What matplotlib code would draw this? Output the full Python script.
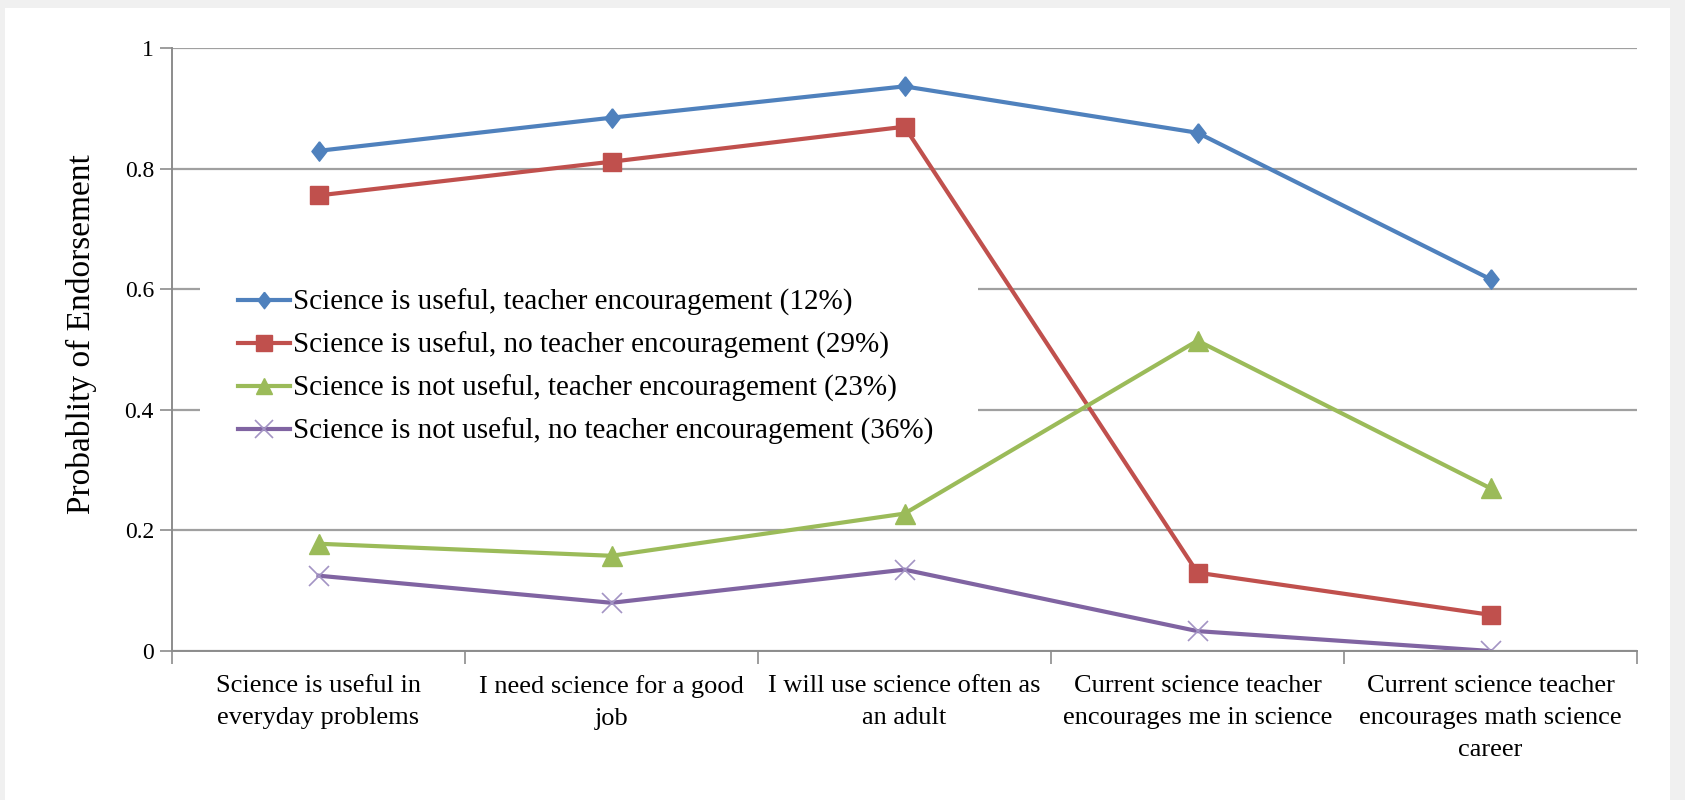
import matplotlib.pyplot as plt
from matplotlib.patches import Rectangle

# Kategorien und Werte
categories = [
    "Science is useful in\neveryday problems",
    "I need science for a good\njob",
    "I will use science often as\nan adult",
    "Current science teacher\nencourages me in science",
    "Current science teacher\nencourages math science\ncareer",
]
labels = [
    "Science is useful, teacher encouragement (12%)",
    "Science is useful, no teacher encouragement (29%)",
    "Science is not useful, teacher encouragement (23%)",
    "Science is not useful, no teacher encouragement (36%)",
]
useful_enc = [0.83, 0.885, 0.937, 0.86, 0.617]
useful_noenc = [0.756, 0.812, 0.87, 0.13, 0.06]
notuseful_enc = [0.178, 0.158, 0.228, 0.515, 0.27]
notuseful_noenc = [0.125, 0.08, 0.135, 0.033, 0.0]
yticks = [0, 0.2, 0.4, 0.6, 0.8, 1]
ytick_labels = ["0", "0.2", "0.4", "0.6", "0.8", "1"]

plt.rcParams["font.family"] = ["Liberation Serif", "DejaVu Serif"]

fig = plt.figure(figsize=(16.85, 8), dpi=100)
fig.patch.set_facecolor("#f0f0f0")
fig.patches.append(Rectangle((5 / 1685, 0), 1665 / 1685, 792 / 800,
                             transform=fig.transFigure, facecolor="white",
                             edgecolor="none", zorder=-10))

ax = fig.add_axes([172 / 1685, 1 - 651 / 800, 1465 / 1685, 602.6 / 800])
ax.set_facecolor("none")

# Excel-artige Raute (etwas schmaler als hoch)
raute = [(0, 1), (0.78, 0), (0, -1), (-0.78, 0), (0, 1)]

x = range(len(categories))
ax.plot(x, useful_enc, color="#4f81bd", lw=3, marker=raute, ms=14, label=labels[0])
ax.plot(x, useful_noenc, color="#c0504d", lw=3, marker="s", ms=13.5, label=labels[1])
ax.plot(x, notuseful_enc, color="#9bbb59", lw=3, marker="^", ms=14, label=labels[2])
ax.plot(x, notuseful_noenc, color="#8064a2", lw=3, marker="x", ms=15, mew=1.2,
        mec="#a394c4", label=labels[3])

ax.set_xlim(-0.5, len(categories) - 0.5)
ax.set_ylim(0, 1)
ax.set_yticks(yticks)
ax.set_yticklabels(ytick_labels, fontsize=17)
ax.set_xticks(x)
ax.set_xticklabels(categories, fontsize=19, linespacing=1.6)
ax.set_xticks([i + 0.5 for i in range(-1, len(categories))], minor=True)
ax.tick_params(axis="x", which="major", length=0, pad=17)
ax.tick_params(axis="x", which="minor", length=9, color="#8c8c8c", width=1.2)
ax.tick_params(axis="y", length=9, color="#8c8c8c", width=1.2, pad=4)
ax.yaxis.grid(True, color="#a0a0a0", lw=1.6)
ax.set_axisbelow(True)
for s in ["top", "right"]:
    ax.spines[s].set_visible(False)
for s in ["left", "bottom"]:
    ax.spines[s].set_color("#8c8c8c")
    ax.spines[s].set_linewidth(1.4)

ax.set_ylabel("Probablity of Endorsement", fontsize=24, labelpad=20)
ax.yaxis.label.set_y(0.526)

# weisser Hintergrund der Legende (verdeckt die Gitterlinien)
ax.add_patch(Rectangle((0.019, 0.35), 0.531, 0.285, transform=ax.transAxes,
                       facecolor="white", edgecolor="none", zorder=1.5))

leg = ax.legend(loc="upper left", bbox_to_anchor=(0.045, 0.601),
                fontsize=21, frameon=False, handlelength=1.8,
                handletextpad=0.1, labelspacing=0.54, borderpad=0,
                borderaxespad=0, markerscale=0.85)

fig.savefig("out.png", dpi=100, facecolor=fig.get_facecolor())
